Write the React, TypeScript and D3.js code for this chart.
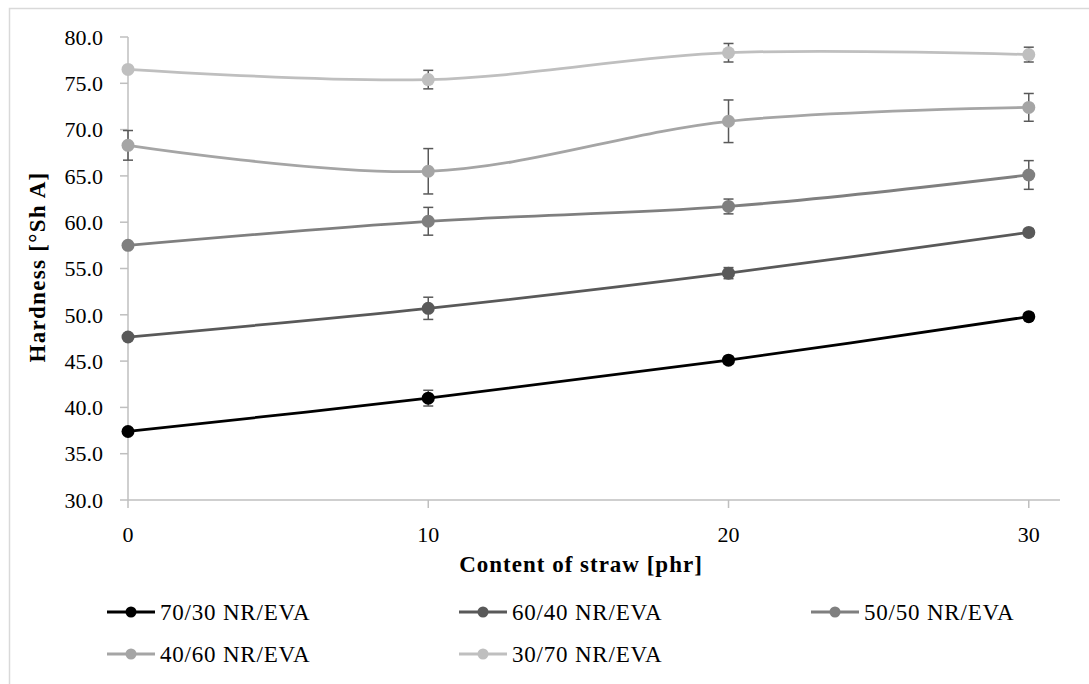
import React from "react";
import { scaleLinear, line, curveCatmullRom, range } from "d3";

// content of straw [phr]
const strawContent = [0, 10, 20, 30];

const seriesNames = ["70/30 NR/EVA", "60/40 NR/EVA", "50/50 NR/EVA", "40/60 NR/EVA", "30/70 NR/EVA"];
const seriesColors = ["#000000", "#595959", "#7f7f7f", "#a5a5a5", "#bfbfbf"];

// hardness [°Sh A] per series
const hard7030 = [37.4, 41.0, 45.1, 49.8];
const hard6040 = [47.6, 50.7, 54.5, 58.9];
const hard5050 = [57.5, 60.1, 61.7, 65.1];
const hard4060 = [68.3, 65.5, 70.9, 72.4];
const hard3070 = [76.5, 75.4, 78.3, 78.1];

// standard deviations
const err7030 = [0.2, 0.85, 0.4, 0.4];
const err6040 = [0.3, 1.2, 0.6, 0.4];
const err5050 = [0.3, 1.5, 0.8, 1.55];
const err4060 = [1.6, 2.45, 2.3, 1.5];
const err3070 = [0.3, 1.0, 1.0, 0.8];

const yTicks = range(30, 80.1, 5);
const xTicks = [0, 10, 20, 30];

const allValues = [hard7030, hard6040, hard5050, hard4060, hard3070];
const allErrors = [err7030, err6040, err5050, err4060, err3070];

const FONT = "'Liberation Serif', 'Times New Roman', serif";

const App = () => {
  const width = 1089;
  const height = 684;

  const x = scaleLinear().domain([0, 31.04]).range([128, 1060]);
  const y = scaleLinear().domain([30, 80]).range([500, 37]);

  const lineGen = line<number>()
    .x((d, i) => x(strawContent[i]))
    .y((d) => y(d))
    .curve(curveCatmullRom.alpha(0));

  // legend layout: 3 columns, 2 rows
  const legendX = (i) => 107 + (i % 3) * 352;
  const legendY = (i) => 612 + Math.floor(i / 3) * 42;

  return (
    <svg width={width} height={height} style={{ position: "absolute", left: 0, top: 0, background: "#fff" }}>
      <rect x={9.5} y={8.5} width={1100} height={700} fill="#fff" stroke="#d9d9d9" strokeWidth={1.5}/>

      {/* y axis */}
      <line x1={x(0)} x2={x(0)} y1={y(80)} y2={y(30)} stroke="#bfbfbf" strokeWidth={1.5}/>
      {yTicks.map((t) => (
        <g key={t}>
          <line x1={x(0) - 8} x2={x(0)} y1={y(t)} y2={y(t)} stroke="#bfbfbf" strokeWidth={1.5}/>
          <text x={103} y={y(t)} dy="0.35em" textAnchor="end" fontFamily={FONT} fontSize={22} fill="#000">
            {t.toFixed(1)}
          </text>
        </g>
      ))}

      {/* x axis */}
      <line x1={x(0)} x2={x.range()[1]} y1={y(30)} y2={y(30)} stroke="#bfbfbf" strokeWidth={1.5}/>
      {xTicks.map((t) => (
        <g key={t}>
          <line x1={x(t)} x2={x(t)} y1={y(30)} y2={y(30) + 8} stroke="#bfbfbf" strokeWidth={1.5}/>
          <text x={x(t)} y={542} textAnchor="middle" fontFamily={FONT} fontSize={22} fill="#000">
            {t}
          </text>
        </g>
      ))}

      <text x={581} y={572} textAnchor="middle" fontFamily={FONT} fontSize={23} fontWeight="bold" letterSpacing={1}>
        Content of straw [phr]
      </text>
      <text
        transform={`translate(45, 267) rotate(-90)`}
        textAnchor="middle"
        fontFamily={FONT}
        fontSize={23}
        fontWeight="bold"
        letterSpacing={1.3}
      >
        Hardness [°Sh A]
      </text>

      {/* lines */}
      {allValues.map((vals, s) => (
        <path key={s} d={lineGen(vals) || ""} fill="none" stroke={seriesColors[s]} strokeWidth={2.75}/>
      ))}

      {/* error bars */}
      {allValues.map((vals, s) =>
        vals.map((v, i) => {
          const e = allErrors[s][i];
          const cx = x(strawContent[i]);
          return (
            <g key={`${s}-${i}`} stroke="#595959" strokeWidth={1.5}>
              <line x1={cx} x2={cx} y1={y(v + e)} y2={y(v - e)}/>
              <line x1={cx - 5} x2={cx + 5} y1={y(v + e)} y2={y(v + e)}/>
              <line x1={cx - 5} x2={cx + 5} y1={y(v - e)} y2={y(v - e)}/>
            </g>
          );
        })
      )}

      {/* markers */}
      {allValues.map((vals, s) =>
        vals.map((v, i) => (
          <circle key={`m${s}-${i}`} cx={x(strawContent[i])} cy={y(v)} r={6.5} fill={seriesColors[s]}/>
        ))
      )}

      {/* legend */}
      {seriesNames.map((name, i) => (
        <g key={name} transform={`translate(${legendX(i)}, ${legendY(i)})`}>
          <line x1={0} x2={48} y1={0} y2={0} stroke={seriesColors[i]} strokeWidth={3}/>
          <circle cx={24} cy={0} r={5.5} fill={seriesColors[i]}/>
          <text x={53} y={0} dy="0.35em" fontFamily={FONT} fontSize={23} letterSpacing={0.8} fill="#000">
            {name}
          </text>
        </g>
      ))}
    </svg>
  );
};

export default App;
